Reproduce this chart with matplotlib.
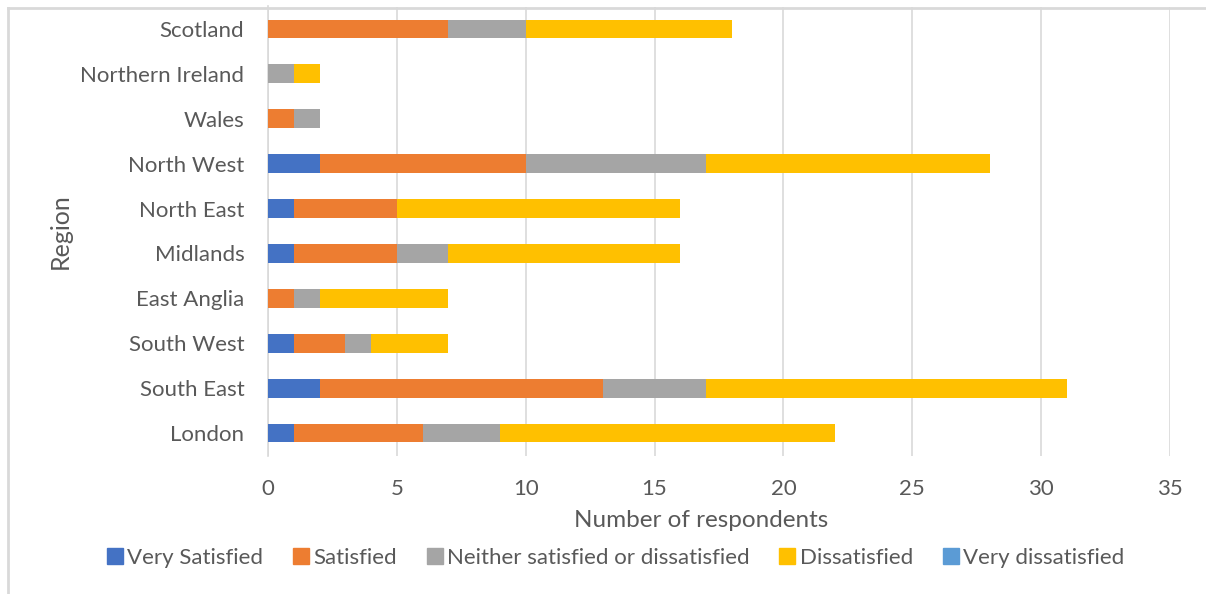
import numpy as np
import matplotlib.pyplot as plt
from matplotlib.lines import Line2D

# Регионы снизу вверх (как в Excel)
regions = ['London', 'South East', 'South West', 'East Anglia', 'Midlands',
           'North East', 'North West', 'Wales', 'Northern Ireland', 'Scotland']

very_satisfied = [1, 2, 1, 0, 1, 1, 2, 0, 0, 0]
satisfied = [5, 11, 2, 1, 4, 4, 8, 1, 0, 7]
neither = [3, 4, 1, 1, 2, 0, 7, 1, 1, 3]
dissatisfied = [13, 14, 3, 5, 9, 11, 11, 0, 1, 8]
very_dissatisfied = [0, 0, 0, 0, 0, 0, 0, 0, 0, 0]

series_names = ['Very Satisfied', 'Satisfied', 'Neither satisfied or dissatisfied',
                'Dissatisfied', 'Very dissatisfied']
series = [very_satisfied, satisfied, neither, dissatisfied, very_dissatisfied]
colors = ['#4472C4', '#ED7D31', '#A5A5A5', '#FFC000', '#5B9BD5']

text_color = '#595959'
grid_color = '#D9D9D9'

plt.rcParams['font.family'] = ['Lato', 'DejaVu Sans']

W, H = 1206, 594
fig = plt.figure(figsize=(W / 100, H / 100), dpi=100)
ax = fig.add_axes([268 / W, 1 - 455.5 / H, (1170 - 268) / W, 449 / H])

y = np.arange(len(regions))
left = np.zeros(len(regions))
for name, vals, col in zip(series_names, series, colors):
    ax.barh(y, vals, left=left, height=0.42, color=col, label=name, zorder=3)
    left += np.array(vals)

ax.set_xlim(0, 35)
ax.set_ylim(-0.5, len(regions) - 0.5)
ax.set_xticks(range(0, 36, 5))
ax.set_yticks(y)
ax.set_yticklabels(regions)
ax.tick_params(axis='both', length=0, labelsize=16, colors=text_color)
ax.tick_params(axis='x', pad=17)
ax.tick_params(axis='y', pad=17)

for s in ['top', 'right', 'bottom']:
    ax.spines[s].set_visible(False)
ax.spines['left'].set_color(grid_color)
ax.spines['left'].set_linewidth(1.2)
ax.xaxis.grid(True, color=grid_color, linewidth=1.2, zorder=0)
ax.set_axisbelow(True)

ax.set_xlabel('Number of respondents', fontsize=17.5, color=text_color, labelpad=8)
ax.xaxis.label.set_x(0.48)
ax.set_ylabel('Region', fontsize=18, color=text_color, labelpad=6)

# Легенда внизу
handles = [Line2D([], [], marker='s', linestyle='none', markersize=11,
                  markerfacecolor=c, markeredgecolor=c) for c in colors]
fig.legend(handles, series_names, loc='center', bbox_to_anchor=(614 / W, 1 - 558 / H),
           ncol=5, frameon=False, fontsize=16, labelcolor=text_color,
           handletextpad=0.05, columnspacing=1.2, handlelength=1.0)

# Рамка области диаграммы
fig.add_artist(Line2D([8 / W, 8 / W], [0, 1 - 8 / H], color=grid_color, lw=2.0,
                      transform=fig.transFigure))
fig.add_artist(Line2D([8 / W, 1], [1 - 8 / H, 1 - 8 / H], color=grid_color, lw=2.0,
                      transform=fig.transFigure))

fig.savefig('out.png', dpi=100)
